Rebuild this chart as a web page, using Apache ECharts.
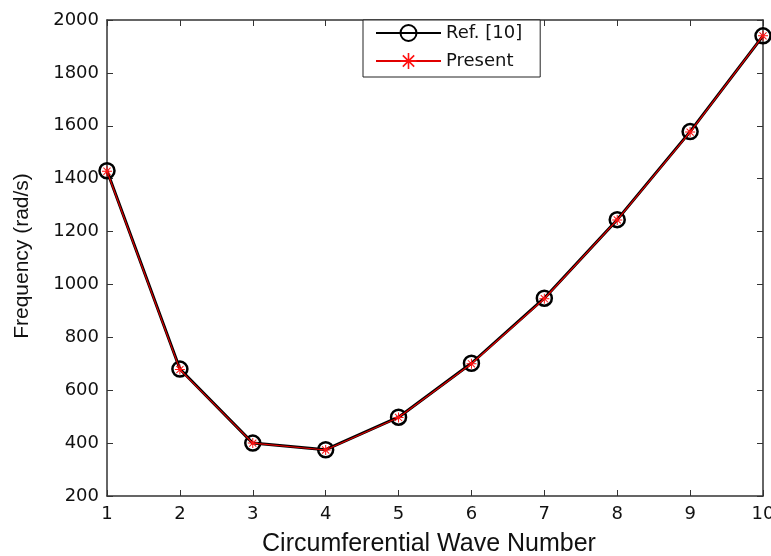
<!DOCTYPE html>
<html>
<head>
<meta charset="utf-8">
<script src="https://cdn.jsdelivr.net/npm/echarts@6/dist/echarts.min.js"></script>
<style>
html, body { margin: 0; padding: 0; background: #fff; }
#chart { width: 771px; height: 556px; }
</style>
</head>
<body>
<div id="chart"></div>
<script>
var waveNumbers = [1, 2, 3, 4, 5, 6, 7, 8, 9, 10];
var refValues = [1430, 680, 400, 375, 498, 702, 948, 1245, 1578, 1940];
var presentValues = [1428, 678, 400, 374, 497, 700, 946, 1244, 1576, 1940];

function pairs(xs, ys) {
	return xs.map(function(x, i) { return [x, ys[i]]; });
}

var star = 'path://M9,0h2v20h-2z M0,9h20v2h-20z M2.2,3.6l1.4,-1.4l14.2,14.2l-1.4,1.4z M16.4,2.2l1.4,1.4l-14.2,14.2l-1.4,-1.4z';
var font = 'Liberation Sans, Arial, sans-serif';
var wide = 'DejaVu Sans, sans-serif';
var plain = function(v) { return String(v); };

var chart = echarts.init(document.getElementById('chart'));
var axisLine = { show: true, lineStyle: { color: '#333', width: 1.5 } };
chart.setOption({
	animation: false,
	backgroundColor: '#fff',
	grid: { left: 107, right: 8, top: 20, bottom: 60, outerBoundsMode: 'none' },
	legend: {
		orient: 'vertical',
		left: 363,
		top: 20,
		itemWidth: 65,
		itemHeight: 20,
		itemGap: 10,
		padding: [4, 18, 7, 12],
		borderColor: '#222',
		borderWidth: 1,
		backgroundColor: '#fff',
		textStyle: { fontFamily: wide, fontSize: 18, color: '#111' },
		data: ['Ref. [10]', 'Present']
	},
	xAxis: [{
		type: 'value',
		min: 1, max: 10, interval: 1,
		name: 'Circumferential Wave Number',
		nameLocation: 'middle',
		nameGap: 36,
		nameTextStyle: { fontFamily: font, fontSize: 25, color: '#111', padding: [0, 12, 0, 0] },
		axisLine: axisLine,
		axisTick: { inside: true, length: 6, lineStyle: { color: '#333' } },
		axisLabel: { fontFamily: wide, fontSize: 18, color: '#111', margin: 9, formatter: plain },
		splitLine: { show: false }
	}, {
		type: 'value', position: 'top',
		min: 1, max: 10, interval: 1,
		axisLine: axisLine,
		axisTick: { inside: true, length: 6, lineStyle: { color: '#333' } },
		axisLabel: { show: false },
		splitLine: { show: false }
	}],
	yAxis: [{
		type: 'value',
		min: 200, max: 2000, interval: 200,
		name: 'Frequency (rad/s)',
		nameLocation: 'middle',
		nameGap: 74,
		nameTextStyle: { fontFamily: font, fontSize: 21, color: '#111', padding: [0, 0, 0, 4] },
		axisLine: axisLine,
		axisTick: { inside: true, length: 6, lineStyle: { color: '#333' } },
		axisLabel: { fontFamily: wide, fontSize: 18, color: '#111', margin: 8, formatter: plain },
		splitLine: { show: false }
	}, {
		type: 'value', position: 'right',
		min: 200, max: 2000, interval: 200,
		axisLine: axisLine,
		axisTick: { inside: true, length: 6, lineStyle: { color: '#333' } },
		axisLabel: { show: false },
		splitLine: { show: false }
	}],
	series: [{
		name: 'Ref. [10]',
		type: 'line',
		data: pairs(waveNumbers, refValues),
		symbol: 'circle',
		symbolSize: 15,
		showAllSymbol: true,
		lineStyle: { color: '#000', width: 3 },
		itemStyle: { color: 'rgba(255,255,255,0)', borderColor: '#000', borderWidth: 2.5 },
		z: 2
	}, {
		name: 'Present',
		type: 'line',
		data: pairs(waveNumbers, presentValues),
		symbol: star,
		symbolSize: 10,
		showAllSymbol: true,
		lineStyle: { color: '#e00000', width: 1.2 },
		itemStyle: { color: '#ff1010' },
		z: 3
	}]
});
</script>
</body>
</html>
